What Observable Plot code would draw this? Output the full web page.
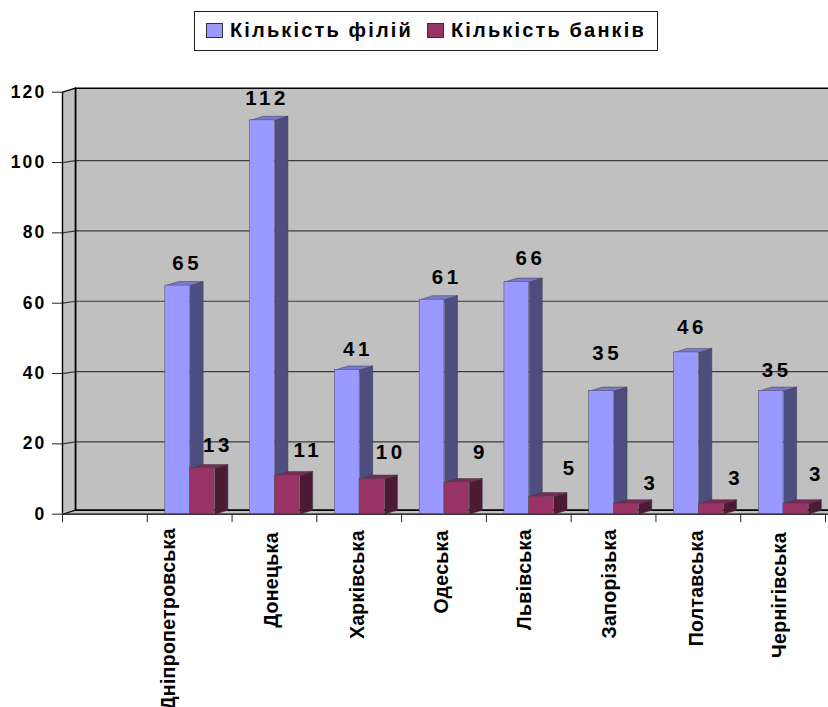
<!DOCTYPE html>
<html lang="uk">
<head>
<meta charset="utf-8">
<title>Кількість філій і банків за областями</title>
<script src="https://cdn.jsdelivr.net/npm/d3@7"></script>
<script src="https://cdn.jsdelivr.net/npm/@observablehq/plot@0.6"></script>
<style>
  html, body { margin: 0; padding: 0; background: #fff; overflow: hidden; }
  body { width: 828px; height: 707px; font-family: "Liberation Sans", Arial, sans-serif; font-weight: bold; color: #000; }
  .legend-band { position: relative; height: 62px; }
  .legend-box { position: absolute; left: 194px; top: 11px; width: 462px; height: 38px; border: 1px solid #222; }
  .legend-box span { position: absolute; top: 7px; font-size: 20px; line-height: 23px; letter-spacing: 2.15px; white-space: nowrap; }
  .legend-box i { position: absolute; top: 11px; width: 15px; height: 13px; border: 1px solid #333; }
  g[aria-label="y-axis tick label"] text { letter-spacing: 2.2px; }
  .value-label text { letter-spacing: 3.6px; }
  .region-label text { letter-spacing: 0.3px; }
</style>
</head>
<body>
<div class="legend-band">
  <div class="legend-box">
    <i style="left:11px;background:#9999FF"></i><span style="left:35px">Кількість філій</span>
    <i style="left:232px;background:#993366"></i><span style="left:256px">Кількість банків</span>
  </div>
</div>
<div id="chart"></div>
<script>
// Branches and banks per oblast. The first slot of the category axis stays empty.
const regions = ["Дніпропетровська", "Донецька", "Харківська", "Одеська", "Львівська", "Запорізька", "Полтавська", "Чернігівська"];
const branches = [65, 112, 41, 61, 66, 35, 46, 35];
const banks = [13, 11, 10, 9, 5, 3, 3, 3];
const yTicks = [0, 20, 40, 60, 80, 100, 120];

// Label nudges in pixels, kept apart from the values.
const branchLabelNudge = [[22, -22], [17, -22], [23, -21], [27, -22], [26, -24], [18, -38], [18, -25], [18, -21]];
const bankLabelNudge = [[28, -23], [33, -25], [31, -27], [36, -30], [41, -28], [37, -20], [37, -25], [33, -29]];
const regionLabelNudge = [[-21, 14], [-3, 18], [-1, 16], [-2, 16], [-4, 15], [-4, 15], [-2, 16], [-3, 18]];

// Extrusion of the 3D look, in data units, and bar placement within a slot.
const depthX = 0.154, depthY = 1.14, gridDepthY = 0.55;
const barStart = 0.213, barWidth = 0.292;
const slots = regions.length + 1;
const yMax = 120;

const series = [
  {values: branches, offset: 0, front: "#9999FF", side: "#4D4D80", top: "#7A7ACC", nudge: branchLabelNudge},
  {values: banks, offset: 1, front: "#993366", side: "#4D1A33", top: "#7A2952", nudge: bankLabelNudge}
];

// Closed faces are drawn as filled lines so that every corner passes through the scales.
function face(points, fill, options = {}) {
  return Plot.line(points, {x: "0", y: "1", fill, stroke: "#3a3a4a", strokeWidth: 0.5, curve: "linear", ...options});
}

function barMarks({values, offset, front, side, top, nudge}) {
  const bars = values.map((v, i) => {
    const x1 = i + 1 + barStart + offset * barWidth;
    return {i, v, x1, x2: x1 + barWidth};
  });
  return [
    bars.map(({v, x2}) => face([[x2, 0], [x2 + depthX, depthY], [x2 + depthX, v + depthY], [x2, v]], side)),
    bars.map(({v, x1, x2}) => face([[x1, v], [x1 + depthX, v + depthY], [x2 + depthX, v + depthY], [x2, v]], top)),
    Plot.rectY(bars, {x1: "x1", x2: "x2", y1: 0, y2: "v", fill: front, stroke: "#4a4a5a", strokeWidth: 0.5}),
    bars.map((b) => Plot.text([b], {
      x: "x1", y: "v", text: "v", dx: nudge[b.i][0], dy: nudge[b.i][1],
      fontSize: 20.5, className: "value-label"
    }))
  ];
}

const wallEdge = {stroke: "#000"};
const chart = Plot.plot({
  width: 828,
  height: 645,
  marginLeft: 62,
  marginRight: 3,
  marginTop: 29.7,
  marginBottom: 193.3,
  style: {fontFamily: "'Liberation Sans', Arial, sans-serif", fontWeight: "bold", color: "#000", background: "#fff"},
  x: {domain: [0, slots], axis: null},
  y: {domain: [0, yMax], axis: null},
  marks: [
    // Side wall, back wall and floor
    face([[0, 0], [depthX, depthY], [depthX, yMax + depthY], [0, yMax]], "#C0C0C0", {stroke: "none"}),
    face([[depthX, depthY], [slots + depthX, depthY], [slots + depthX, yMax + depthY], [depthX, yMax + depthY]], "#C0C0C0", {stroke: "none"}),
    face([[0, 0], [depthX, depthY], [slots + depthX, depthY], [slots, 0]], "#C0C0C0", {stroke: "none"}),
    // Gridlines run along the back wall and fold down the side wall
    yTicks.filter((t) => t > 0 && t < yMax).map((t) =>
      Plot.line([[0, t], [depthX, t + gridDepthY], [slots + depthX, t + gridDepthY]], {x: "0", y: "1", stroke: "#3c3c3c", strokeWidth: 1.2})
    ),
    Plot.line([[0, 0], [0, yMax], [depthX, yMax + depthY], [slots + depthX, yMax + depthY]], {x: "0", y: "1", ...wallEdge, strokeWidth: 1.4}),
    Plot.line([[depthX, yMax + depthY], [depthX, depthY], [slots + depthX, depthY]], {x: "0", y: "1", ...wallEdge, strokeWidth: 1.8}),
    Plot.line([[0, 0], [depthX, depthY]], {x: "0", y: "1", ...wallEdge, strokeWidth: 1.2}),
    Plot.ruleY([0], {x1: 0, x2: slots + depthX, stroke: "#333", strokeWidth: 1.6}),
    // Axes
    Plot.axisY({ticks: yTicks, tickSize: 10, tickPadding: 6, fontSize: 17.5, stroke: "#222"}),
    Plot.axisX({ticks: d3.range(slots + 1), tickSize: 8.5, tickFormat: () => "", stroke: "#222"}),
    // Bars
    series.map(barMarks),
    Plot.ruleY([0], {x1: 0, x2: slots, stroke: "#333", strokeWidth: 1}),
    // Region names, rotated, hanging below the axis
    regions.map((name, i) => Plot.text([name], {
      x: i + 1.5, y: 0, text: (d) => d, rotate: -90, textAnchor: "end",
      dx: regionLabelNudge[i][0], dy: regionLabelNudge[i][1],
      fontSize: 19.5, className: "region-label"
    }))
  ]
});
document.getElementById("chart").append(chart);
</script>
</body>
</html>
